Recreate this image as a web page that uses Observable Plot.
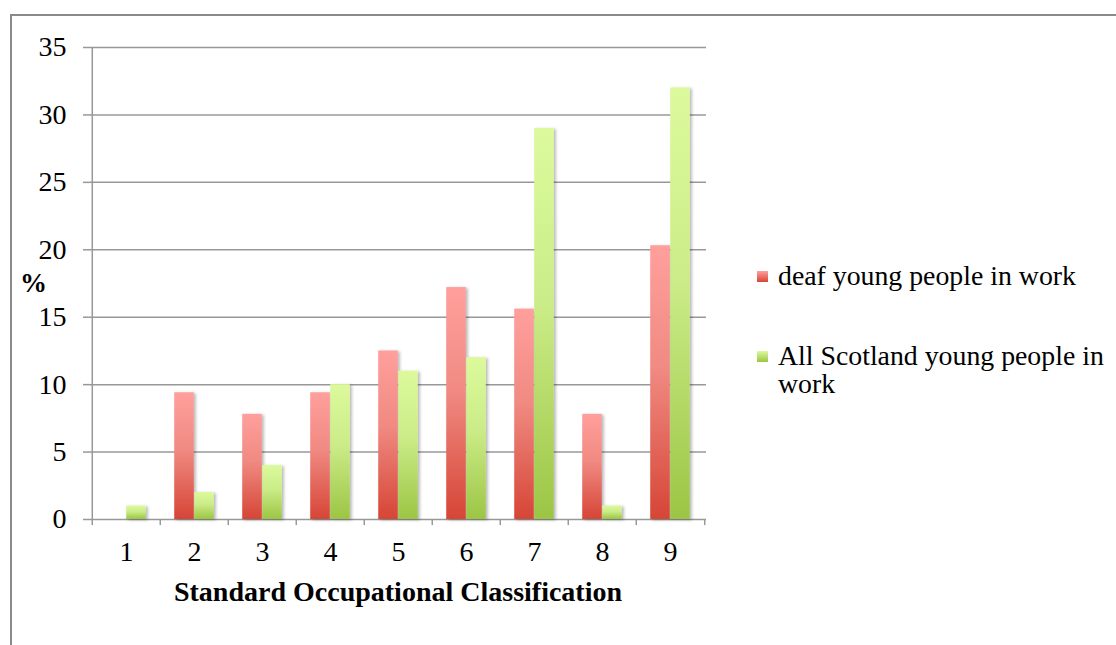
<!DOCTYPE html>
<html>
<head>
<meta charset="utf-8">
<script src="https://cdn.jsdelivr.net/npm/d3@7"></script>
<script src="https://cdn.jsdelivr.net/npm/@observablehq/plot@0.6"></script>
<style>
  html, body { margin: 0; padding: 0; background: #fff; }
  #wrap { position: relative; width: 1116px; height: 645px; overflow: hidden; font-family: "Liberation Serif", serif; }
  #border { position: absolute; left: 10px; top: 14px; right: -5px; bottom: -5px; border-left: 2px solid #8a8a8a; border-top: 2px solid #8a8a8a; pointer-events: none; }
  #chart { position: absolute; left: 0; top: 0; }
  .lbl { position: absolute; color: #000; white-space: nowrap; }
  #ylab { left: 20px; top: 268px; font-size: 27px; font-weight: bold; line-height: 30px; }
  #xlab { left: 90px; width: 616px; top: 575px; text-align: center; font-size: 28px; font-weight: bold; line-height: 34px; }
  #legend { position: absolute; left: 757px; top: 262px; font-size: 27.8px; line-height: 28.5px; color: #000; }
  .item { position: relative; padding-left: 21px; margin-bottom: 51px; }
  .sw { position: absolute; left: 0; width: 11px; height: 11px; top: 9px; }
</style>
</head>
<body>
<svg width="0" height="0" style="position:absolute">
  <defs>
    <linearGradient id="gradRed" x1="0" y1="0" x2="0" y2="1">
      <stop offset="0" stop-color="#ff9f9c"/>
      <stop offset="0.45" stop-color="#f08a82"/>
      <stop offset="1" stop-color="#d64536"/>
    </linearGradient>
    <linearGradient id="gradGreen" x1="0" y1="0" x2="0" y2="1">
      <stop offset="0" stop-color="#dcfa9c"/>
      <stop offset="0.45" stop-color="#cbec88"/>
      <stop offset="1" stop-color="#9cc544"/>
    </linearGradient>
    <filter id="shadow" x="-20%" y="-5%" width="150%" height="115%">
      <feDropShadow dx="2" dy="1" stdDeviation="1.5" flood-color="#000" flood-opacity="0.28"/>
    </filter>
  </defs>
</svg>
<div id="wrap">
  <div id="chart"></div>
  <div id="border"></div>
  <div id="ylab" class="lbl">%</div>
  <div id="xlab" class="lbl">Standard Occupational Classification</div>
  <div id="legend"></div>
</div>
<script>
// ---- data ----
const categories = ["1", "2", "3", "4", "5", "6", "7", "8", "9"];
const deafYoungPeople = [0, 9.4, 7.8, 9.4, 12.5, 17.2, 15.6, 7.8, 20.3];
const allScotlandYoungPeople = [1, 2, 4, 10, 11, 12, 29, 1, 32];
const seriesNames = ["deaf young people in work", "All Scotland young people in work"];
const yTicks = [0, 5, 10, 15, 20, 25, 30, 35];
const xTitle = "Standard Occupational Classification";
const yTitle = "%";

// ---- layout ----
const W = 1116, H = 645;
const mL = 90, mR = 410, mT = 47, mB = 126;
const half = (W - mL - mR) / categories.length / 2; // half band in px
const barW = 20;
const gridColor = "#989898";

const chart = Plot.plot({
  width: W,
  height: H,
  marginLeft: mL,
  marginRight: mR,
  marginTop: mT,
  marginBottom: mB,
  style: { fontFamily: "Liberation Serif, serif", fontSize: "28px", background: "transparent", color: "#000" },
  x: { type: "band", domain: categories, padding: 0, axis: null },
  y: { domain: [0, 35], axis: null },
  marks: [
    Plot.gridY(yTicks, { stroke: gridColor, strokeOpacity: 1, strokeWidth: 1.5 }),
    Plot.axisY(yTicks, { tickSize: 7, tickPadding: 17, stroke: gridColor, strokeWidth: 1.5, fill: "#000", label: null }),
    Plot.axisX(categories, { tickSize: 0, tickPadding: 22, fill: "#000", label: null }),
    // y axis line
    Plot.ruleX([categories[0]], { x: d => d, dx: -half, y1: 0, y2: 35, stroke: gridColor, strokeWidth: 1.5 }),
    // category boundary ticks
    Plot.ruleX(categories, { x: d => d, dx: -half, y1: -0.45, y2: 0, stroke: gridColor, strokeWidth: 1.5 }),
    Plot.ruleX([categories[categories.length - 1]], { x: d => d, dx: half, y1: -0.45, y2: 0, stroke: gridColor, strokeWidth: 1.5 }),
    Plot.barY(categories, {
      x: d => d, y: (d, i) => deafYoungPeople[i],
      fill: "url(#gradRed)", insetLeft: half - barW, insetRight: half
    }),
    Plot.barY(categories, {
      x: d => d, y: (d, i) => allScotlandYoungPeople[i],
      fill: "url(#gradGreen)", insetLeft: half, insetRight: half - barW
    })
  ]
});
chart.querySelectorAll('g[aria-label="bar"]').forEach(g => g.setAttribute("filter", "url(#shadow)"));
document.getElementById("chart").appendChild(chart);

// ---- legend ----
const legend = document.getElementById("legend");
const legendHTML = [seriesNames[0], "All Scotland young people in<br>work"];
const swatchBg = [
  "linear-gradient(#ff9f9c, #d64536)",
  "linear-gradient(#dcfa9c, #9cc544)"
];
seriesNames.forEach((name, i) => {
  const item = document.createElement("div");
  item.className = "item";
  const sw = document.createElement("div");
  sw.className = "sw";
  sw.style.background = swatchBg[i];
  item.appendChild(sw);
  const t = document.createElement("span");
  t.innerHTML = legendHTML[i];
  item.appendChild(t);
  legend.appendChild(item);
});
</script>
</body>
</html>
